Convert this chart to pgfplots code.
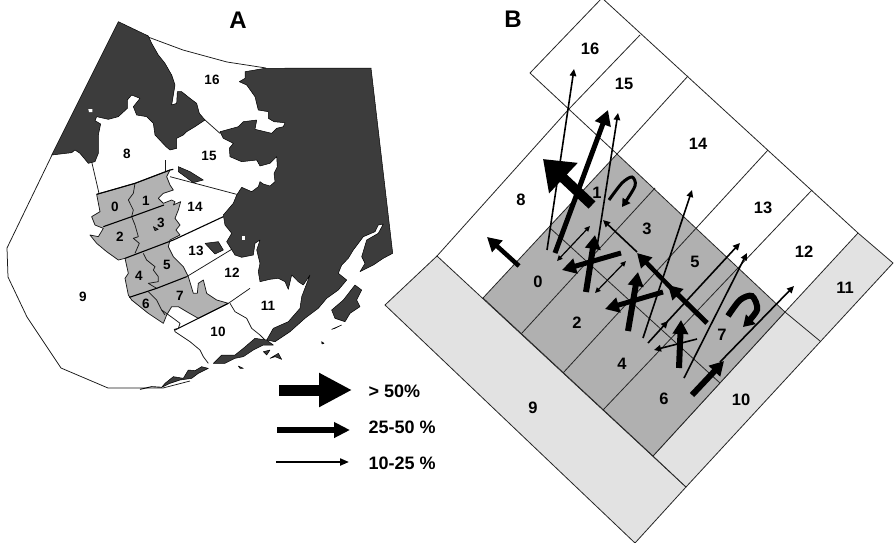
\documentclass[border=0pt]{standalone}
\usepackage{fontspec}
\setmainfont{Liberation Sans}
\usepackage{pgfplots}
\pgfplotsset{compat=1.18}
\usetikzlibrary{arrows.meta}
\definecolor{land}{HTML}{3C3C3C}
\definecolor{greyA}{HTML}{B2B2B2}
\definecolor{greyB}{HTML}{B0B0B0}
\definecolor{lightB}{HTML}{E2E2E2}
\tikzset{bfnum/.style={font=\bfseries\fontsize{#1}{#1}\selectfont}}
\pgfplotsset{
 crop/.style 2 args={x filter/.expression={x/3+#1},y filter/.expression={y/3+#2}},
 ln/.style={draw=black!85,line width=0.8pt,line join=round},
 lnA/.style={draw=black!90,line width=0.75pt,line join=round},
 thk/.style={draw=black,line width=1.1pt,line join=round},
 dk/.style={fill=land,draw=black,line width=0.5pt,line join=round},
 thin arr/.style={draw=black,line width=1.6pt,-{Triangle[length=7pt,width=6.5pt]}},
 dbl arr/.style={draw=black,line width=1.2pt,{Triangle[length=5.5pt,width=5pt]}-{Triangle[length=5.5pt,width=5pt]}},
 med arr/.style={draw=black,line width=#1,-{Triangle[length=14pt,width=15pt]}},
}
\begin{document}
\begin{tikzpicture}
\begin{axis}[scale only axis,width=894pt,height=542pt,xmin=0,xmax=894,ymin=0,ymax=542,y dir=reverse,
 hide axis,clip=true,no markers,
 every node/.append style={inner sep=0pt}]
\addplot[fill=white,draw=none] coordinates {(0,0)(894,0)(894,542)(0,542)} --cycle;
% ---- Panel A: outer boundary (px)
\addplot[lnA] coordinates {(52,155)(7,248)(8,277)(27,317)(61,368)(108,388)(163,388)(190,381)};
\addplot[lnA] coordinates {(148,37)(183,50)(227,62)(266,68)};
% grey districts (crop at 90,160)
\addplot[fill=greyA,lnA,crop={90}{160}] coordinates {(20,103)(135,70)(240,30)(230,50)(240,75)(250,90)(220,100)(205,115)(220,130)(245,120)(255,125)(250,135)(272,125)(265,150)(255,175)(270,195)(258,210)(270,225)(240,240)(235,260)(250,290)(280,320)(295,350)(310,400)(322,400)(325,370)(340,360)(350,400)(380,420)(415,430)(325,475)(290,455)(265,440)(245,440)(230,465)(220,490)(175,460)(125,420)(115,405)(105,355)(115,340)(105,295)(85,300)(50,275)(20,250)(0,225)(25,230)(40,205)(15,195)(5,170)(30,155)} --cycle;
\addplot[lnA,crop={90}{160}] coordinates {(135,70)(130,100)(115,120)(130,150)(125,170)(135,195)(145,230)(130,235)(148,250)(135,280)};
\addplot[lnA,crop={90}{160}] coordinates {(160,280)(170,300)(195,320)(190,330)(205,350)(205,365)(175,370)(200,385)};
\addplot[lnA,crop={90}{160}] coordinates {(175,395)(200,420)(215,450)(225,465)};
\addplot[lnA,crop={90}{160}] coordinates {(5,5)(27,100)};
\addplot[lnA,crop={90}{160}] coordinates {(225,0)(225,35)};
\addplot[thk,crop={90}{160}] coordinates {(20,103)(135,70)(240,30)(250,28)};
\addplot[lnA,crop={90}{160}] coordinates {(240,50)(440,103)};
\addplot[thk,crop={90}{160}] coordinates {(40,200)(125,170)(222,135)};
\addplot[thk,crop={90}{160}] coordinates {(105,295)(250,240)(400,170)};
\addplot[thk,crop={90}{160}] coordinates {(118,412)(200,385)(290,350)};
\addplot[lnA,crop={90}{160}] coordinates {(290,350)(430,265)};
\addplot[thk,crop={90}{160}] coordinates {(255,510)(415,430)};
\addplot[lnA,crop={90}{160}] coordinates {(415,430)(480,385)};
% region 10 and 11 lines (crop at 140,300)
\addplot[lnA,crop={140}{300}] coordinates {(270,10)(285,35)(320,55)(335,85)(360,105)(375,120)};
\addplot[lnA,crop={140}{300}] coordinates {(105,95)(150,125)(180,150)(190,170)(205,190)};
\addplot[lnA,crop={140}{300}] coordinates {(65,30)(100,55)(120,70)(115,85)(103,88)(105,95)};
\addplot[lnA,crop={40}{20}] coordinates {(495,300)(540,340)};
% dark land west (crop at 40,20)
\addplot[dk,crop={40}{20}] coordinates {(235,5)(325,48)(335,70)(355,105)(375,130)(395,165)(405,195)(400,225)(395,255)(410,250)(412,215)(425,215)(450,235)(470,250)(478,280)(495,300)(465,320)(440,335)(430,345)(410,355)(410,385)(390,390)(378,380)(345,345)(340,310)(320,290)(290,285)(280,260)(300,235)(275,225)(262,240)(262,265)(235,290)(205,298)(170,290)(165,302)(182,312)(175,345)(175,400)(165,425)(145,430)(120,400)(105,390)(95,398)(35,405)} --cycle;
\addplot[fill=white,draw=none,crop={40}{20}] coordinates {(145,267)(157,267)(157,276)(147,276)} --cycle;
% dark land mainland (px)
\addplot[dk] coordinates {(265,68.3)(245,71.7)(245,78.3)(239.3,81.7)(246.7,85)(255,96.7)(258.3,110)(268.3,111.7)(268.3,118.3)(274,121.7)(285,122.7)(283.3,126.7)(276.7,128.3)(271.7,133.3)(255,129.3)(256.7,120)(243.3,121.7)(238.3,126.7)(220,131.7)(223.3,138.3)(233.3,143.3)(229.3,148.3)(230,156.7)(241.7,161.7)(256.7,160)(260,166)(270,163.3)(276.7,156.7)(277.3,166.7)(274,173.3)(275,181.7)(270,186)(263.3,184)(260,181.7)(258.3,186.7)(251.7,191.7)(241.7,187.3)(236.7,195)(233.3,203.3)(223.3,215)(225,225)(231.7,233.3)(226.7,241.7)(235,255)(241.7,257.3)(253.3,255)(255,243.3)(260,240)(256.7,250)(260,263.3)(258.3,271.7)(260,281.7)(270,279.3)(278.3,278.3)(285,281.7)(288.3,289.3)(291.7,275)(298.3,281.7)(303.3,285)(310,275)(301.7,296.7)(300,308.3)(288.3,321.7)(273.3,328.3)(266.7,340)(275,341.7)(290,331.7)(305,318.3)(318.3,308.3)(326.7,298.3)(338.3,290)(346.7,280)(338.3,273.3)(341.7,265)(348.3,258.3)(353.3,250)(363.3,236.7)(375,231.7)(378.3,225)(383.3,224)(378.3,233.3)(366.7,240)(361.7,256.7)(365,263.3)(360,271.7)(373.3,265)(383.3,258.3)(392.7,253.3)(371,68)} --cycle;
\addplot[fill=white,draw=none,crop={210}{200}] coordinates {(96,108)(106,108)(106,120)(96,120)} --cycle;
% islands and lakes (crop at 210,200)
\addplot[dk,crop={210}{200}] coordinates {(170,420)(135,415)(100,445)(75,465)(35,465)(10,490)(45,490)(75,475)(100,470)(130,450)(160,435)(190,435)} --cycle;
\addplot[dk,crop={210}{200}] coordinates {(365,330)(400,300)(435,255)(455,270)(440,300)(450,320)(420,340)(405,365)(375,355)} --cycle;
\addplot[dk,crop={210}{200}] coordinates {(365,388)(395,375)(375,385)} --cycle;
\addplot[dk,crop={210}{200}] coordinates {(160,455)(180,450)(170,465)} --cycle;
\addplot[dk,crop={210}{200}] coordinates {(180,475)(205,460)(215,478)(195,470)} --cycle;
\addplot[dk,crop={210}{200}] coordinates {(85,498)(100,505)(90,505)} --cycle;
\addplot[dk,crop={210}{200}] coordinates {(335,425)(342,430)(336,432)} --cycle;
\addplot[dk,crop={140}{300}] coordinates {(205,205)(185,200)(165,212)(145,210)(130,235)(100,230)(75,250)(65,262)(90,250)(120,240)(155,235)(175,220)} --cycle;
\addplot[draw=black,line width=0.9pt,crop={140}{300}] coordinates {(0,268)(35,260)(65,262)};
\addplot[dk,crop={90}{160}] coordinates {(265,20)(300,35)(340,60)(310,68)(265,35)} --cycle;
\addplot[dk,crop={90}{160}] coordinates {(345,250)(385,245)(400,270)(375,282)} --cycle;
\addplot[dk,crop={90}{160}] coordinates {(190,200)(205,208)(195,212)} --cycle;
% ---- Panel B
\addplot[fill=lightB,ln] coordinates {(385,305)(437,256)(686,487)(635,543)} --cycle;
\addplot[fill=lightB,ln] coordinates {(653,456)(785,312)(858,233)(893,263)(686,487)} --cycle;
\addplot[ln] coordinates {(785,312)(820,341)};
\addplot[fill=greyB,ln] coordinates {(483,298)(617,154)(785,312)(653,456)} --cycle;
\addplot[ln] coordinates {(437,256)(568,110)};
\addplot[ln] coordinates {(530,73)(602,-2)(858,233)};
\addplot[ln] coordinates {(530,73)(617,154)};
\addplot[ln] coordinates {(568,110)(640,35)};
\addplot[ln] coordinates {(617,154)(688,76)};
\addplot[ln] coordinates {(768,150)(563,373)};
\addplot[ln] coordinates {(655,188)(522,333)};
\addplot[ln] coordinates {(812,190)(603,410)};
\addplot[ln] coordinates {(550,228)(720,383)};
% arrows
\addplot[thin arr] coordinates {(547,250)(574,69)};
\addplot[draw=black,line width=5pt,-{Triangle[length=15pt,width=16pt]}] coordinates {(555,253)(608,110)};
\addplot[thin arr] coordinates {(597,247)(618,113)};
\addplot[draw=black,line width=10pt,-{Triangle[length=28pt,width=40pt]}] coordinates {(592,205)(543,159)};
\addplot[med arr=5pt] coordinates {(707,323)(668,285)};
\addplot[med arr=4.5pt] coordinates {(673,290)(637,253)};
\addplot[thin arr] coordinates {(637,252)(603,220)};
\addplot[med arr=4.5pt] coordinates {(519,266)(487,237)};
\addplot[dbl arr] coordinates {(557,261)(590,226)};
\addplot[dbl arr] coordinates {(595,293)(626,261)};
\addplot[med arr=5pt] coordinates {(621,253)(562,270)};
\addplot[med arr=6pt] coordinates {(586,292)(595,235)};
\addplot[med arr=5pt] coordinates {(663,292)(605,309)};
\addplot[med arr=6pt] coordinates {(628,331)(638,272)};
\addplot[thin arr] coordinates {(643,338)(692,190)};
\addplot[thin arr] coordinates {(648,343)(668,321)};
\addplot[thin arr] coordinates {(666,323)(740,243)};
\addplot[thin arr] coordinates {(684,378)(747,253)};
\addplot[thin arr] coordinates {(720,362)(794,286)};
\addplot[med arr=6pt] coordinates {(692,395)(724,361)};
\addplot[med arr=6pt] coordinates {(679,368)(681,320)};
\addplot[thin arr] coordinates {(697,339)(654,350)};
\addplot[smooth,draw=black,line width=3pt,-{Triangle[length=8pt,width=9pt]}] coordinates {(609,200)(622,183)(632,177)(635,186)(622,207)};
\addplot[smooth,draw=black,line width=6pt,-{Triangle[length=11pt,width=13pt]}] coordinates {(728,316)(740,300)(752,296)(757,310)(743,327)};
% legend
\addplot[draw=black,line width=11pt,-{Triangle[length=33pt,width=32pt]}] coordinates {(279,390)(352,390)};
\addplot[draw=black,line width=5.3pt,-{Triangle[length=16pt,width=15pt]}] coordinates {(277,430)(350,430)};
\addplot[draw=black,line width=2pt,-{Triangle[length=9pt,width=7pt]}] coordinates {(276,462)(349,462)};
% labels
\node[bfnum=24] at (axis cs:238,20) {A};
\node[bfnum=24] at (axis cs:513,19) {B};
\foreach \t/\x/\y in {16/212/80,15/209/156,8/127/154,14/195/207,0/115/207,1/146/201,2/120/237,3/161/223,13/196/251,12/232/273,11/268/306,10/218/332,9/83/297,4/139/276,5/167/265,6/146/304,7/180/296}{\edef\tmp{\noexpand\node[bfnum=13.5] at (axis cs:\x,\y) {\t};}\tmp}
\foreach \t/\x/\y in {16/590/49,15/624/84,14/698/144,13/763/208,12/804/252,11/845/288,10/741/400,9/533/408,8/521/200,0/538/282,1/597/193,2/577/323,3/647/229,4/622/364,5/695/262,6/664/399,7/722/335}{\edef\tmp{\noexpand\node[bfnum=16.5] at (axis cs:\x,\y) {\t};}\tmp}
\node[anchor=west,bfnum=18] at (axis cs:365,391) {> 50\%};
\node[anchor=west,bfnum=18] at (axis cs:365,427) {25-50 \%};
\node[anchor=west,bfnum=18] at (axis cs:365,463) {10-25 \%};
\end{axis}
\end{tikzpicture}
\end{document}
